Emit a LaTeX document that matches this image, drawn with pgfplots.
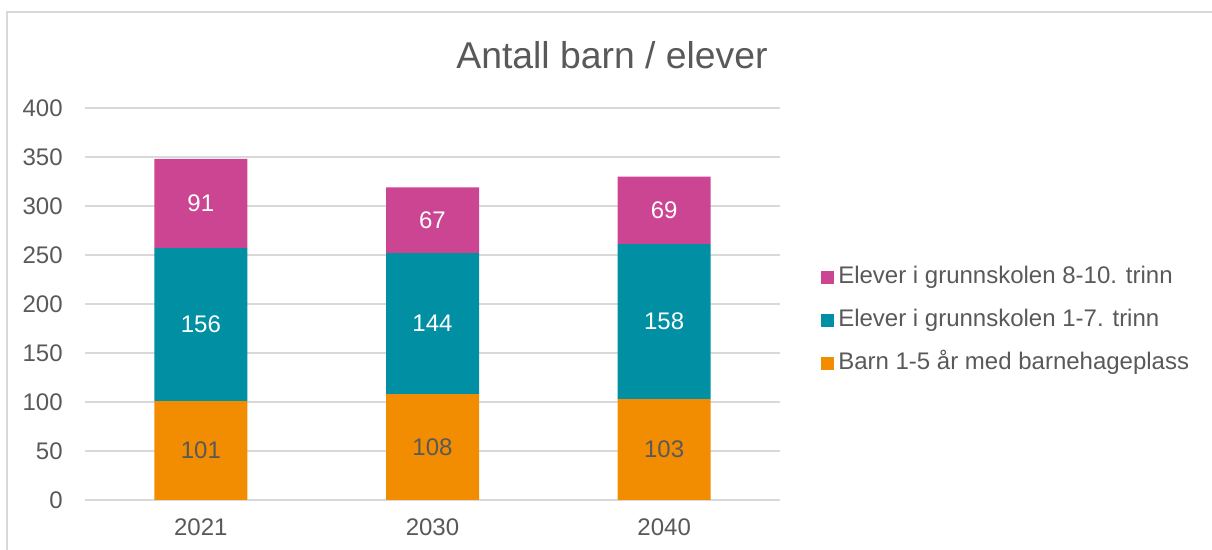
\documentclass[border=0pt]{standalone}
\usepackage{pgfplots}
\usepackage{pgfplotstable}
\pgfplotsset{compat=1.18}
\usepackage{fontspec}
\setmainfont{Liberation Sans}
\definecolor{cpink}{HTML}{CC4592}
\definecolor{cteal}{HTML}{008FA3}
\definecolor{corange}{HTML}{F28C00}
\definecolor{ctext}{HTML}{595959}
\definecolor{cgrid}{HTML}{D9D9D9}
\pgfplotstableread{
x y
0 101
1 108
2 103
}\barn
\pgfplotstableread{
x y
0 156
1 144
2 158
}\lav
\pgfplotstableread{
x y
0 91
1 67
2 69
}\hoy
\begin{document}
\begin{tikzpicture}
\path[use as bounding box] (0pt,0pt) rectangle (909pt,411.75pt);
\draw[cgrid, line width=1pt] (5.25pt,-2pt) -- (5.25pt,402.75pt) -- (912pt,402.75pt);
\node[font=\fontsize{28}{32}\selectfont, text=ctext, anchor=base] at (459pt,360.5pt) {Antall barn / elever};
\begin{axis}[
  at={(63.75pt,36.75pt)}, anchor=south west,
  scale only axis, width=521.25pt, height=294pt,
  ybar stacked, bar width=69.75pt,
  xmin=-0.5, xmax=2.5, ymin=0, ymax=400,
  xtick={0,1,2}, xticklabels={2021,2030,2040},
  ytick={0,50,...,400},
  ymajorgrids, grid style={cgrid, line width=0.9pt},
  axis line style={draw=none},
  major tick length=0pt,
  /pgf/number format/assume math mode=true,
  tick label style={font=\fontsize{18}{20}\selectfont, text=ctext},
  yticklabel style={xshift=-13.2pt},
  xticklabel style={yshift=-10.2pt},
  nodes near coords,
  visualization depends on={\thisrow{y} \as \rawy},
  every node near coord/.append style={anchor=center, font=\fontsize{18}{20}\selectfont},
  reverse legend,
  legend cell align=left,
  legend style={at={(1.059,0.458)}, anchor=west, draw=none, fill=none, inner sep=0pt,
    font=\fontsize{18}{20}\selectfont, text=ctext, row sep=15.75pt,
    nodes={inner sep=0pt, text height=13pt, text depth=3.5pt}},
]
\addplot[fill=corange, draw=none, nodes near coords style={text=ctext},
  legend image code/.code={\fill[corange] (0pt,-4.875pt) rectangle (9.75pt,4.875pt);}] table[x=x,y=y] {\barn};
\addlegendentry{\,Barn 1-5 år med barnehageplass}
\addplot[fill=cteal, draw=none, nodes near coords style={text=white},
  legend image code/.code={\fill[cteal] (0pt,-4.875pt) rectangle (9.75pt,4.875pt);}] table[x=x,y=y] {\lav};
\addlegendentry{\,Elever i grunnskolen 1-7. trinn}
\addplot[fill=cpink, draw=none, nodes near coords style={text=white},
  legend image code/.code={\fill[cpink] (0pt,-4.875pt) rectangle (9.75pt,4.875pt);}] table[x=x,y=y] {\hoy};
\addlegendentry{\,Elever i grunnskolen 8-10. trinn}
\end{axis}
\end{tikzpicture}
\end{document}
